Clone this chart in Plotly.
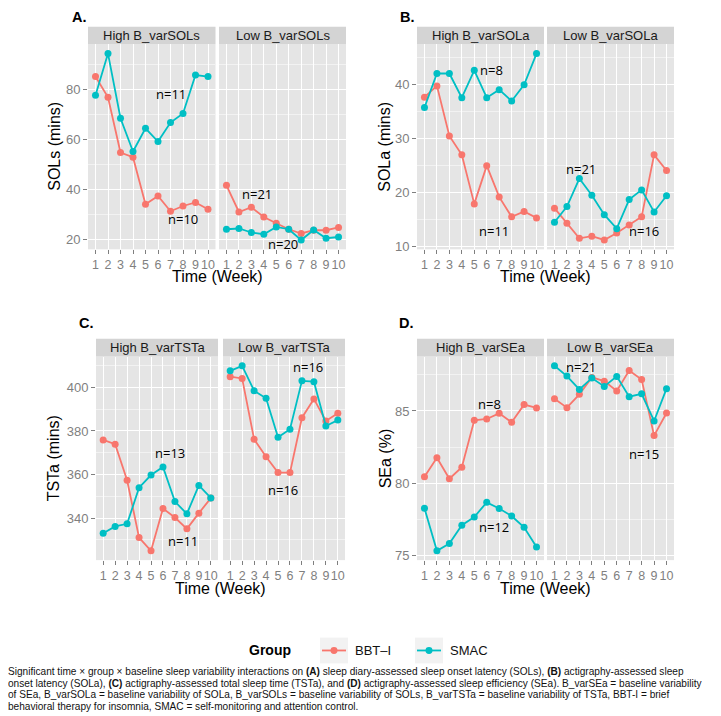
import plotly.graph_objects as go

W, H = 721, 716
weeks = list(range(1, 11))

# ---------------- data ----------------
panel_letters = ["A.", "B.", "C.", "D."]
y_titles = ["SOLs (mins)", "SOLa (mins)", "TSTa (mins)", "SEa (%)"]
facet_labels = [["High B_varSOLs", "Low B_varSOLs"],
                ["High B_varSOLa", "Low B_varSOLa"],
                ["High B_varTSTa", "Low B_varTSTa"],
                ["High B_varSEa", "Low B_varSEa"]]
groups = ["BBT–I", "SMAC"]
legend_title = "Group"

sols_high_bbti = [85.1, 76.8, 54.7, 52.8, 34.0, 37.3, 31.2, 33.3, 34.7, 32.0]
sols_high_smac = [77.6, 94.3, 68.4, 55.1, 64.4, 59.1, 66.7, 70.3, 85.7, 85.1]
sols_low_bbti = [41.6, 30.9, 32.8, 28.9, 26.4, 24.0, 22.3, 23.6, 23.6, 24.7]
sols_low_smac = [24.0, 24.3, 22.7, 22.0, 24.9, 24.0, 19.7, 23.7, 20.4, 20.9]

sola_high_bbti = [37.7, 39.8, 30.5, 27.0, 17.9, 25.0, 19.2, 15.5, 16.5, 15.3]
sola_high_smac = [35.8, 42.1, 42.1, 37.6, 42.7, 37.6, 39.1, 37.0, 40.0, 45.8]
sola_low_bbti = [17.1, 14.3, 11.5, 11.9, 11.2, 12.5, 14.0, 15.5, 27.0, 24.1]
sola_low_smac = [14.5, 17.4, 22.6, 19.5, 15.9, 13.3, 18.7, 20.5, 16.4, 19.4]

tsta_high_bbti = [375.9, 373.9, 357.4, 331.1, 325.0, 344.4, 340.3, 335.1, 342.3, 349.2]
tsta_high_smac = [333.1, 336.2, 337.4, 354.0, 359.8, 363.5, 347.6, 342.0, 355.0, 349.3]
tsta_low_bbti = [404.9, 404.1, 376.2, 368.2, 360.9, 360.9, 386.1, 394.7, 384.6, 388.1]
tsta_low_smac = [407.6, 409.9, 398.5, 395.0, 377.1, 380.8, 403.0, 402.6, 382.3, 385.0]

sea_high_bbti = [80.46, 81.77, 80.32, 81.12, 84.36, 84.45, 84.84, 84.22, 85.44, 85.21]
sea_high_smac = [78.28, 75.34, 75.85, 77.11, 77.68, 78.69, 78.26, 77.75, 76.97, 75.60]
sea_low_bbti = [85.85, 85.23, 86.15, 87.32, 87.06, 86.38, 87.80, 87.18, 83.30, 84.86]
sea_low_smac = [88.12, 87.41, 86.49, 87.27, 86.70, 87.39, 85.99, 86.19, 84.31, 86.54]

series = [
    [[sols_high_bbti, sols_high_smac], [sols_low_bbti, sols_low_smac]],
    [[sola_high_bbti, sola_high_smac], [sola_low_bbti, sola_low_smac]],
    [[tsta_high_bbti, tsta_high_smac], [tsta_low_bbti, tsta_low_smac]],
    [[sea_high_bbti, sea_high_smac], [sea_low_bbti, sea_low_smac]],
]

n_labels = [
    [("n=11", 7.0, 78.0), ("n=10", 8.0, 28.0)], [("n=21", 3.45, 38.0), ("n=20", 5.55, 18.0)],
    [("n=8", 6.4, 42.8), ("n=11", 6.6, 12.9)], [("n=21", 3.15, 24.4), ("n=16", 8.2, 12.9)],
    [("n=13", 6.6, 369.8), ("n=11", 7.65, 329.3)], [("n=16", 7.5, 409.5), ("n=16", 5.4, 352.7)],
    [("n=8", 6.25, 85.46), ("n=12", 6.6, 76.97)], [("n=21", 3.15, 88.03), ("n=15", 8.2, 82.06)],
]

caption_lines = [
    "Significant time × group × baseline sleep variability interactions on <b>(A)</b> sleep diary-assessed sleep onset latency (SOLs), <b>(B)</b> actigraphy-assessed sleep",
    "onset latency (SOLa), <b>(C)</b> actigraphy-assessed total sleep time (TSTa), and <b>(D)</b> actigraphy-assessed sleep efficiency (SEa). B_varSEa = baseline variability",
    "of SEa, B_varSOLa = baseline variability of SOLa, B_varSOLs = baseline variability of SOLs, B_varTSTa = baseline variability of TSTa, BBT-I = brief",
    "behavioral therapy for insomnia, SMAC = self-monitoring and attention control.",
]

# ---------------- layout geometry (screen pixels) ----------------
OFF = 8  # page body margin offset
colors = ["#F8766D", "#00BFC4"]
facet_x = [
    [(88, 215.5), (219, 346)],
    [(417, 544), (547, 674)],
    [(96, 218), (223, 345)],
    [(417, 544), (547, 674)],
]
plot_y = [(44.5, 251), (44.5, 251), (359, 564), (359, 564)]
strip_y = [(27, 44.5), (27, 44.5), (341, 359), (341, 359)]
y_ranges = [[15.97, 98.03], [9.47, 47.53], [320.75, 414.15], [74.7, 88.76]]
y_dticks = [20, 10, 20, 5]
y_title_x = [55, 385, 53, 385]
x_title_y = [278, 278, 593, 593]
letter_pos = [(79, 17), (407, 17), (86, 325), (406, 325)]
legend_y = 655
legend_title_x = 270
key_centers = [334, 429]
key_text_x = [353, 448]
caption_y = [676, 688, 699.5, 711]

def px(x):
    return (x - OFF) / W

def py(y):
    return 1 - (y - OFF) / H

fig = go.Figure()
layout = dict(
    width=W, height=H, margin=dict(l=0, r=0, t=0, b=0), showlegend=False,
    paper_bgcolor="white", plot_bgcolor="#E5E5E5",
    font=dict(family="Liberation Sans, Arial, sans-serif", color="#000000"),
    annotations=[], shapes=[],
)

tick_font = dict(family="Liberation Sans, Arial, sans-serif", size=12.5, color="#7F7F7F")

for p in range(4):
    for f in range(2):
        k = 2 * p + f + 1
        xs = "" if k == 1 else str(k)
        base_y = "y" if p == 0 else "y" + str(2 * p + 1)
        for g in range(2):
            fig.add_trace(go.Scatter(
                x=weeks, y=series[p][f][g], mode="lines+markers",
                line=dict(color=colors[g], width=1.8),
                marker=dict(color=colors[g], size=7),
                name=groups[g], legendgroup=groups[g],
                xaxis="x" + xs, yaxis="y" + xs,
            ))
        x0, x1 = facet_x[p][f]
        layout["xaxis" + xs] = dict(
            domain=[px(x0), px(x1)], anchor="y" + xs, range=[0.4, 10.6],
            tickvals=weeks, ticktext=[str(w) for w in weeks], tickangle=0,
            showgrid=True, gridcolor="white", gridwidth=1.2, zeroline=False,
            ticks="outside", ticklen=4, tickcolor="#7F7F7F", tickwidth=1,
            tickfont=tick_font, showline=False, fixedrange=True,
        )
        ya = dict(
            domain=[py(plot_y[p][1]), py(plot_y[p][0])], anchor="x" + xs,
            range=y_ranges[p], dtick=y_dticks[p], tick0=0,
            showgrid=True, gridcolor="white", gridwidth=1.2, zeroline=False,
            minor=dict(dtick=y_dticks[p] / 2, tick0=0, showgrid=True, gridcolor="#F2F2F2", gridwidth=0.7),
            showline=False, fixedrange=True,
        )
        if f == 0:
            ya.update(ticks="outside", ticklen=4, tickcolor="#7F7F7F", tickwidth=1,
                      tickfont=dict(tick_font, size=13), showticklabels=True)
        else:
            ya.update(matches=base_y, ticks="", showticklabels=False)
        layout["yaxis" + xs] = ya

        # strip
        layout["shapes"].append(dict(
            type="rect", xref="paper", yref="paper",
            x0=px(x0), x1=px(x1), y0=py(strip_y[p][1]), y1=py(strip_y[p][0]),
            fillcolor="#D4D4D4", line=dict(width=0), layer="below"))
        layout["annotations"].append(dict(
            text=facet_labels[p][f], xref="paper", yref="paper",
            x=px((x0 + x1) / 2), y=py((strip_y[p][0] + strip_y[p][1]) / 2),
            showarrow=False, xanchor="center", yanchor="middle",
            font=dict(size=13, color="#1A1A1A")))
        # n labels
        for (txt, xv, yv) in n_labels[k - 1]:
            layout["annotations"].append(dict(
                text=txt, xref="x" + xs, yref="y" + xs, x=xv, y=yv,
                showarrow=False, xanchor="center", yanchor="middle",
                font=dict(family="Open Sans, sans-serif", size=13, color="#000000")))

    # axis titles
    left = facet_x[p][0][0]
    right = facet_x[p][1][1]
    layout["annotations"].append(dict(
        text="Time (Week)", xref="paper", yref="paper",
        x=px((left + right) / 2), y=py(x_title_y[p]), showarrow=False,
        xanchor="center", yanchor="middle", font=dict(size=16)))
    layout["annotations"].append(dict(
        text=y_titles[p], xref="paper", yref="paper", textangle=-90,
        x=px(y_title_x[p]), y=py((plot_y[p][0] + plot_y[p][1]) / 2), showarrow=False,
        xanchor="center", yanchor="middle", font=dict(size=16)))
    layout["annotations"].append(dict(
        text="<b>" + panel_letters[p] + "</b>", xref="paper", yref="paper",
        x=px(letter_pos[p][0]), y=py(letter_pos[p][1]), showarrow=False,
        xanchor="center", yanchor="middle", borderpad=0, font=dict(size=14.5)))

# ---------------- legend (drawn by hand, ggplot style) ----------------
layout["annotations"].append(dict(
    text="<b>" + legend_title + "</b>", xref="paper", yref="paper",
    x=px(legend_title_x), y=py(legend_y), showarrow=False,
    xanchor="center", yanchor="middle", font=dict(size=14)))
for g in range(2):
    kc = key_centers[g]
    layout["shapes"].append(dict(
        type="rect", xref="paper", yref="paper",
        x0=px(kc - 14), x1=px(kc + 14), y0=py(legend_y + 13), y1=py(legend_y - 13),
        fillcolor="#F2F2F2", line=dict(width=0), layer="below"))
    layout["shapes"].append(dict(
        type="line", xref="paper", yref="paper",
        x0=px(kc - 12), x1=px(kc + 12), y0=py(legend_y), y1=py(legend_y),
        line=dict(color=colors[g], width=1.8)))
    layout["shapes"].append(dict(
        type="circle", xref="paper", yref="paper",
        x0=px(kc - 3.5), x1=px(kc + 3.5), y0=py(legend_y + 3.5), y1=py(legend_y - 3.5),
        fillcolor=colors[g], line=dict(width=0)))
    layout["annotations"].append(dict(
        text=groups[g], xref="paper", yref="paper",
        x=px(key_text_x[g]), y=py(legend_y), showarrow=False,
        xanchor="left", yanchor="middle", font=dict(size=13, color="#111111")))

# caption
for i, line in enumerate(caption_lines):
    layout["annotations"].append(dict(
        text=line, xref="paper", yref="paper", x=px(6), y=py(caption_y[i]),
        showarrow=False, xanchor="left", yanchor="middle", align="left",
        font=dict(family="Liberation Sans Narrow, Arial Narrow, Liberation Sans, sans-serif",
                  size=10.1, color="#111111")))

fig.update_layout(**layout)
fig.write_html("out.html")
